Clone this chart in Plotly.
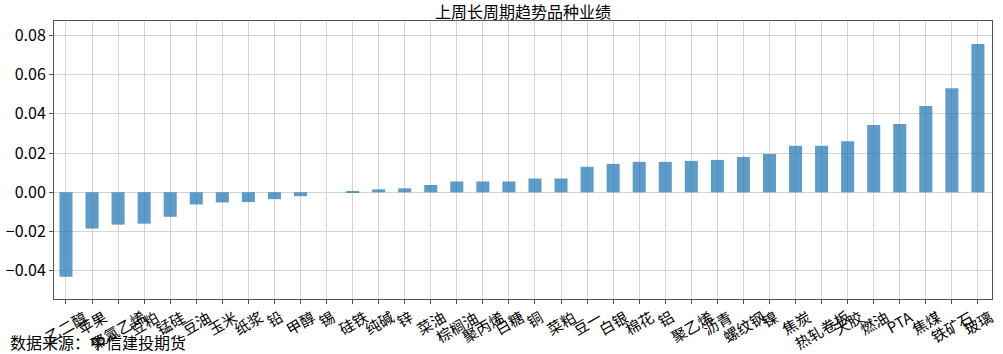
import plotly.graph_objects as go

categories = ["乙二醇", "苹果", "聚氯乙烯", "豆粕", "锰硅", "豆油", "玉米", "纸浆", "铅", "甲醇",
              "锡", "硅铁", "纯碱", "锌", "菜油", "棕榈油", "聚丙烯", "白糖", "铜", "菜粕",
              "豆一", "白银", "棉花", "铝", "聚乙烯", "沥青", "螺纹钢", "镍", "焦炭", "热轧卷板",
              "天胶", "燃油", "PTA", "焦煤", "铁矿石", "玻璃"]
values = [-0.043, -0.0185, -0.0165, -0.016, -0.0125, -0.0062, -0.0052, -0.005, -0.0035, -0.002,
          0.0, 0.0003, 0.0015, 0.002, 0.0037, 0.0055, 0.0055, 0.0055, 0.007, 0.007,
          0.013, 0.0145, 0.0155, 0.0155, 0.016, 0.0165, 0.018, 0.0195, 0.0237, 0.0237,
          0.026, 0.0343, 0.0348, 0.044, 0.053, 0.0756]
y_ticks = [-0.04, -0.02, 0.0, 0.02, 0.04, 0.06, 0.08]
y_tick_labels = ["−0.04", "−0.02", "0.00", "0.02", "0.04", "0.06", "0.08"]
title = "上周长周期趋势品种业绩"
source = "数据来源：中信建投期货"

FONT = "Noto Sans CJK SC, DejaVu Sans, sans-serif"
xs = list(range(len(categories)))

fig = go.Figure()
fig.add_trace(go.Bar(x=xs, y=values, width=0.5,
                     marker=dict(color="#1f77b4", line=dict(width=0)),
                     opacity=0.72))

annotations = []
for i, c in enumerate(categories):
    annotations.append(dict(x=i, y=0, xref="x", yref="paper", text=c, showarrow=False,
                            textangle=-30, xanchor="center", yanchor="top", yshift=-4,
                            font=dict(size=15, color="black", family=FONT)))
annotations.append(dict(x=0, y=0, xref="paper", yref="paper", text=source, showarrow=False,
                        xanchor="left", yanchor="bottom", xshift=-46, yshift=-57,
                        font=dict(size=16, color="black", family=FONT)))

fig.update_layout(
    width=1003, height=354,
    margin=dict(l=54, r=11, t=21, b=55, autoexpand=False),
    paper_bgcolor="white", plot_bgcolor="white",
    showlegend=False,
    title=dict(text=title, x=0.5, xanchor="center", xref="paper", y=0.965, yanchor="middle",
               font=dict(size=16, color="black", family=FONT)),
    annotations=annotations,
    font=dict(family=FONT, color="black"),
    xaxis=dict(range=[-0.46, 35.54], tickmode="array", tickvals=xs, showticklabels=False,
               showgrid=True, gridcolor="#d3d3d3", gridwidth=1, automargin=False,
               showline=True, linecolor="#555555", linewidth=1, mirror=True,
               ticks="outside", ticklen=4, tickcolor="#555555", zeroline=False),
    yaxis=dict(range=[-0.0544, 0.0873], tickmode="array", tickvals=y_ticks, ticktext=y_tick_labels,
               showgrid=True, gridcolor="#d3d3d3", gridwidth=1, automargin=False,
               showline=True, linecolor="#555555", linewidth=1, mirror=True,
               ticks="outside", ticklen=4, tickcolor="#555555", zeroline=False,
               tickfont=dict(size=16, color="black", family=FONT)),
)

fig.write_html("out.html")
